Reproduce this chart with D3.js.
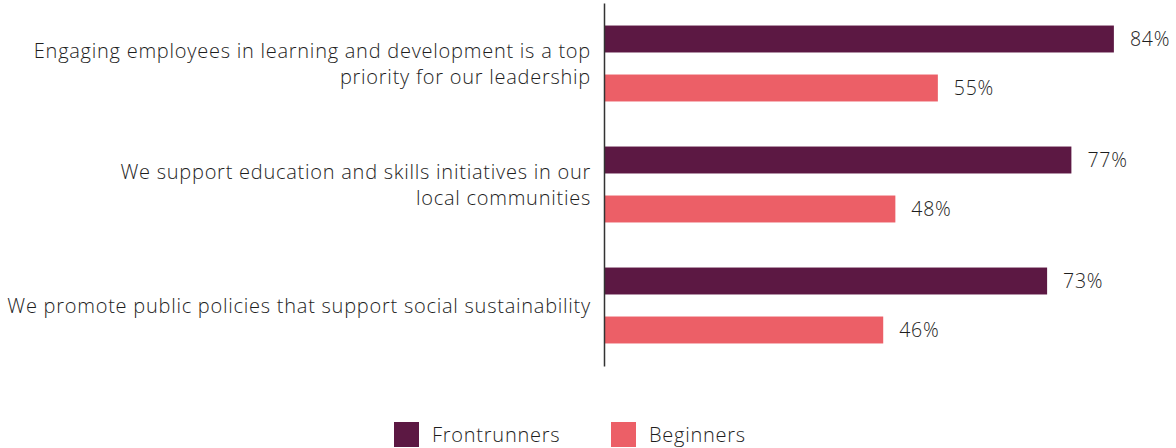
<!DOCTYPE html>
<html>
<head>
<meta charset="utf-8">
<script src="https://cdn.jsdelivr.net/npm/d3@7"></script>
<style>
  body { margin: 0; background: #fff; }
  text { font-family: "Open Sans", "Noto Sans", sans-serif; font-weight: 300; fill: #1e1e1e; letter-spacing: 0.75px; }
</style>
</head>
<body>
<svg id="chart" width="1176" height="448"></svg>
<script>
/* chart data */
const categories = [
  ["Engaging employees in learning and development is a top", "priority for our leadership"],
  ["We support education and skills initiatives in our", "local communities"],
  ["We promote public policies that support social sustainability"]
];
const seriesNames = ["Frontrunners", "Beginners"];
const frontrunners = [84, 77, 73];
const beginners = [55, 48, 46];
const colors = ["#5c1843", "#ec5f67"];

const width = 1176, height = 448;
const margin = { left: 604, top: 3, bottom: 82 };

const svg = d3.select("#chart");

/* scales */
const groups = d3.range(categories.length);
const yScale = d3.scaleBand().domain(groups).range([margin.top, height - margin.bottom]);
const ySub = d3.scaleBand().domain(seriesNames).range([0, yScale.bandwidth()])
  .paddingInner(0.45).paddingOuter(0.46);
const xScale = d3.scaleLinear().domain([0, 100]).range([margin.left, 1211]);
const color = d3.scaleOrdinal().domain(seriesNames).range(colors);

const rows = groups.map(i => ({ i, values: [
  { name: seriesNames[0], value: frontrunners[i] },
  { name: seriesNames[1], value: beginners[i] }
]}));

/* bars */
const g = svg.selectAll("g.group").data(rows).join("g")
  .attr("class", "group")
  .attr("transform", d => `translate(0,${yScale(d.i)})`);

g.selectAll("rect").data(d => d.values).join("rect")
  .attr("x", xScale(0))
  .attr("y", d => ySub(d.name))
  .attr("height", ySub.bandwidth())
  .attr("width", d => xScale(d.value) - xScale(0))
  .attr("fill", d => color(d.name));

g.selectAll("text.value").data(d => d.values).join("text")
  .attr("class", "value")
  .attr("x", d => xScale(d.value) + 16)
  .attr("y", d => ySub(d.name) + ySub.bandwidth() / 2)
  .attr("dy", "0.36em")
  .style("font-size", "19.5px")
  .text(d => d.value + "%");

/* category labels */
g.each(function(d) {
  const lines = categories[d.i];
  const lh = 26;
  const t = d3.select(this).append("text")
    .attr("text-anchor", "end")
    .style("font-size", "20px");
  lines.forEach((line, k) => {
    t.append("tspan")
      .attr("x", margin.left - 13)
      .attr("y", yScale.bandwidth() / 2 + (k - (lines.length - 1) / 2) * lh + 7)
      .text(line);
  });
});

/* y axis line */
svg.append("g")
  .attr("transform", `translate(${margin.left},0)`)
  .call(d3.axisLeft(yScale).tickSize(0).tickFormat(""))
  .call(a => a.select(".domain").attr("stroke", "#333").attr("stroke-width", 1.5));

/* legend */
const legendX = [394, 611];
const legend = svg.selectAll("g.legend").data(seriesNames).join("g")
  .attr("class", "legend")
  .attr("transform", (d, i) => `translate(${legendX[i]},422)`);
legend.append("rect").attr("width", 25).attr("height", 25).attr("fill", d => color(d));
legend.append("text")
  .attr("x", 38).attr("y", 12.5).attr("dy", "0.36em")
  .style("font-size", "20px")
  .text(d => d);
</script>
</body>
</html>
